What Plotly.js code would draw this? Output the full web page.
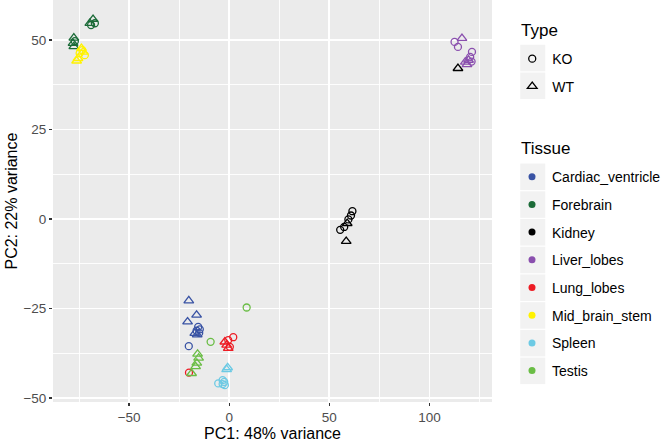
<!DOCTYPE html>
<html>
<head>
<meta charset="utf-8">
<script src="https://cdn.plot.ly/plotly-3.0.1.min.js"></script>
<style>html,body{margin:0;padding:0;background:#fff;}#chart{width:666px;height:443px;}</style>
</head>
<body>
<div id="chart"></div>
<script>
// ---- data ----
const tissueLevels = ['Cardiac_ventricle','Forebrain','Kidney','Liver_lobes','Lung_lobes','Mid_brain_stem','Spleen','Testis'];
const typeLevels = ['KO','WT'];
const tissueColors = ['#3953A4','#1B6B38','#000000','#8A4FAE','#ED1C24','#FFF200','#6DCAE4','#6ABD45'];

const sampleTissue = [
 'Cardiac_ventricle','Cardiac_ventricle','Cardiac_ventricle','Cardiac_ventricle','Cardiac_ventricle',
 'Cardiac_ventricle','Cardiac_ventricle','Cardiac_ventricle','Cardiac_ventricle','Cardiac_ventricle',
 'Forebrain','Forebrain','Forebrain','Forebrain','Forebrain','Forebrain','Forebrain','Forebrain',
 'Kidney','Kidney','Kidney','Kidney','Kidney','Kidney','Kidney','Kidney',
 'Liver_lobes','Liver_lobes','Liver_lobes','Liver_lobes','Liver_lobes','Liver_lobes','Liver_lobes','Liver_lobes','Liver_lobes',
 'Lung_lobes','Lung_lobes','Lung_lobes','Lung_lobes','Lung_lobes','Lung_lobes','Lung_lobes',
 'Mid_brain_stem','Mid_brain_stem','Mid_brain_stem','Mid_brain_stem','Mid_brain_stem','Mid_brain_stem','Mid_brain_stem',
 'Spleen','Spleen','Spleen','Spleen','Spleen','Spleen','Spleen',
 'Testis','Testis','Testis','Testis','Testis','Testis','Testis'
];
const sampleType = [
 'KO','KO','KO','KO','KO','WT','WT','WT','WT','WT',
 'KO','KO','KO','WT','WT','WT','WT','WT',
 'KO','KO','KO','KO','KO','WT','WT','WT',
 'KO','KO','KO','KO','KO','WT','WT','WT','WT',
 'KO','KO','KO','KO','WT','WT','WT',
 'KO','KO','KO','WT','WT','WT','WT',
 'KO','KO','KO','KO','KO','WT','WT',
 'KO','KO','WT','WT','WT','WT','WT'
];
const pc1 = [
 -15.5,-14.7,-16.3,-15.0,-20.2, -20.2,-16.3,-20.8,-17.2,-16.0,
 -67.1,-69.0,-77.1, -68.0,-69.6,-77.6,-78.0,-77.6,
 61.5,60.8,59.5,57.4,55.4, 58.9,58.4,114.2,
 112.5,114.2,121.2,120.3,121.0, 116.2,119.5,117.9,118.7,
 2.0,-0.5,0.3,-20.1, -2.2,-1.3,-0.5,
 -72.1,-74.7,-73.4, -73.8,-73.0,-75.5,-76.2,
 -5.5,-3.3,-2.2,-3.3,-2.5, -1.3,-0.8,
 8.7,-9.3, -15.8,-15.3,-16.2,-16.8,-18.8
];
const pc2 = [
 -30.1,-30.8,-31.2,-31.8,-35.5, -22.8,-26.8,-28.7,-31.9,-32.3,
 54.7,54.2,49.7, 55.8,54.7,50.6,49.1,48.2,
 2.2,1.0,-0.1,-2.2,-3.0, -1.2,-6.2,42.1,
 49.5,48.1,46.7,45.3,44.0, 50.5,44.4,43.9,43.2,
 -33.0,-33.8,-35.7,-42.9, -34.3,-35.2,-36.1,
 45.8,46.3,47.2, 47.7,46.7,44.9,44.2,
 -45.9,-45.0,-46.4,-46.1,-45.5, -42.0,-41.5,
 -24.7,-34.3, -37.7,-38.8,-40.2,-41.2,-43.1
];
const xTickVals = [-50, 0, 50, 100];
const yTickVals = [-50, -25, 0, 25, 50];
const xTitle = 'PC1: 48% variance';
const yTitle = 'PC2: 22% variance';
const typeTitle = 'Type';
const tissueTitle = 'Tissue';

// ---- layout constants ----
const W = 666, H = 443;
const M = {l: 53.4, r: 174.2, t: 0, b: 41.3};
const plotW = W - M.l - M.r, plotH = H - M.t - M.b;
const px2x = px => (px - M.l) / plotW;
const py2y = py => (H - M.b - py) / plotH;
const FONT = 'Liberation Sans, Arial, Helvetica, sans-serif';
const symbolOf = {KO: 'circle-open', WT: 'triangle-up-open'};
const sizeOf = {KO: 7, WT: 8.5};

const traces = [];
tissueLevels.forEach((t, ti) => {
  typeLevels.forEach(ty => {
    const xs = [], ys = [];
    for (let i = 0; i < pc1.length; i++) {
      if (sampleTissue[i] === t && sampleType[i] === ty) { xs.push(pc1[i]); ys.push(pc2[i]); }
    }
    traces.push({
      type: 'scatter', mode: 'markers', x: xs, y: ys, showlegend: false, hoverinfo: 'skip',
      marker: {symbol: symbolOf[ty], size: sizeOf[ty], color: tissueColors[ti], line: {width: 1.3, color: tissueColors[ti]}}
    });
  });
});
// legend entries
typeLevels.forEach((ty, k) => {
  traces.push({type: 'scatter', mode: 'markers', x: [null], y: [null], name: ty, legend: 'legend',
    legendgroup: 'type' + k, showlegend: true,
    marker: {symbol: symbolOf[ty], size: sizeOf[ty], color: '#000', line: {width: 1.3, color: '#000'}}});
});
tissueLevels.forEach((t, ti) => {
  traces.push({type: 'scatter', mode: 'markers', x: [null], y: [null], name: t, legend: 'legend2',
    legendgroup: 'tis' + ti, showlegend: true,
    marker: {symbol: 'circle', size: 7, color: tissueColors[ti]}});
});

// legend key boxes
const shapes = [];
const keyH = 27.7;
function keyBox(cy) {
  shapes.push({type: 'rect', xref: 'paper', yref: 'paper', layer: 'below',
    x0: px2x(520), x1: px2x(545), y0: py2y(cy + keyH / 2 - 0.6), y1: py2y(cy - keyH / 2 + 0.6),
    fillcolor: '#F2F2F2', line: {width: 0}});
}
[58, 58 + keyH].forEach(keyBox);
for (let k = 0; k < 8; k++) keyBox(176.7 + k * keyH);

const axisCommon = {
  showline: false, zeroline: false, ticks: 'outside', ticklen: 3, tickwidth: 1.4, tickcolor: '#333333',
  showgrid: true, gridcolor: '#FFFFFF', gridwidth: 1.8,
  tickfont: {family: FONT, size: 13.5, color: '#4D4D4D'},
  fixedrange: true
};

const titleFont = {family: FONT, size: 16, color: '#000'};
const legTitleFont = {family: FONT, size: 17, color: '#000'};
const layout = {
  width: W, height: H, margin: M,
  paper_bgcolor: '#FFFFFF', plot_bgcolor: '#EBEBEB',
  font: {family: FONT, color: '#000'},
  xaxis: Object.assign({}, axisCommon, {
    range: [-88.0, 131.2], tickvals: xTickVals, ticktext: xTickVals.map(v => v < 0 ? '\u2212' + Math.abs(v) : String(v)),
    minor: {showgrid: true, gridcolor: '#FFFFFF', gridwidth: 0.9, tickvals: [-75, -25, 25, 75, 125], ticks: ''}
  }),
  yaxis: Object.assign({}, axisCommon, {
    range: [-51.1, 61.2], tickvals: yTickVals, ticktext: yTickVals.map(v => v < 0 ? '\u2212' + Math.abs(v) : String(v)),
    minor: {showgrid: true, gridcolor: '#FFFFFF', gridwidth: 0.9, tickvals: [-37.5, -12.5, 12.5, 37.5], ticks: ''}
  }),
  annotations: [
    {text: xTitle, xref: 'paper', yref: 'paper', x: 0.5, y: py2y(443), xanchor: 'center', yanchor: 'bottom',
     borderpad: 0, showarrow: false, font: titleFont},
    {text: yTitle, xref: 'paper', yref: 'paper', x: px2x(11), y: 0.5, xanchor: 'center', yanchor: 'middle',
     borderpad: 0, textangle: -90, showarrow: false, font: titleFont},
    {text: typeTitle, xref: 'paper', yref: 'paper', x: px2x(520), y: py2y(30), xanchor: 'left', yanchor: 'middle',
     borderpad: 0, showarrow: false, font: legTitleFont},
    {text: tissueTitle, xref: 'paper', yref: 'paper', x: px2x(520), y: py2y(148), xanchor: 'left', yanchor: 'middle',
     borderpad: 0, showarrow: false, font: legTitleFont}
  ],
  legend: {
    x: px2x(512), y: py2y(43), xanchor: 'left', yanchor: 'top',
    font: {family: FONT, size: 14, color: '#000'}, bgcolor: 'rgba(0,0,0,0)', tracegroupgap: 6.5,
    itemclick: false, itemdoubleclick: false
  },
  legend2: {
    x: px2x(512), y: py2y(161), xanchor: 'left', yanchor: 'top',
    font: {family: FONT, size: 14, color: '#000'}, bgcolor: 'rgba(0,0,0,0)', tracegroupgap: 6.5,
    itemclick: false, itemdoubleclick: false
  },
  shapes: shapes,
  showlegend: true
};

Plotly.newPlot('chart', traces, layout, {staticPlot: true, displayModeBar: false});
</script>
</body>
</html>
